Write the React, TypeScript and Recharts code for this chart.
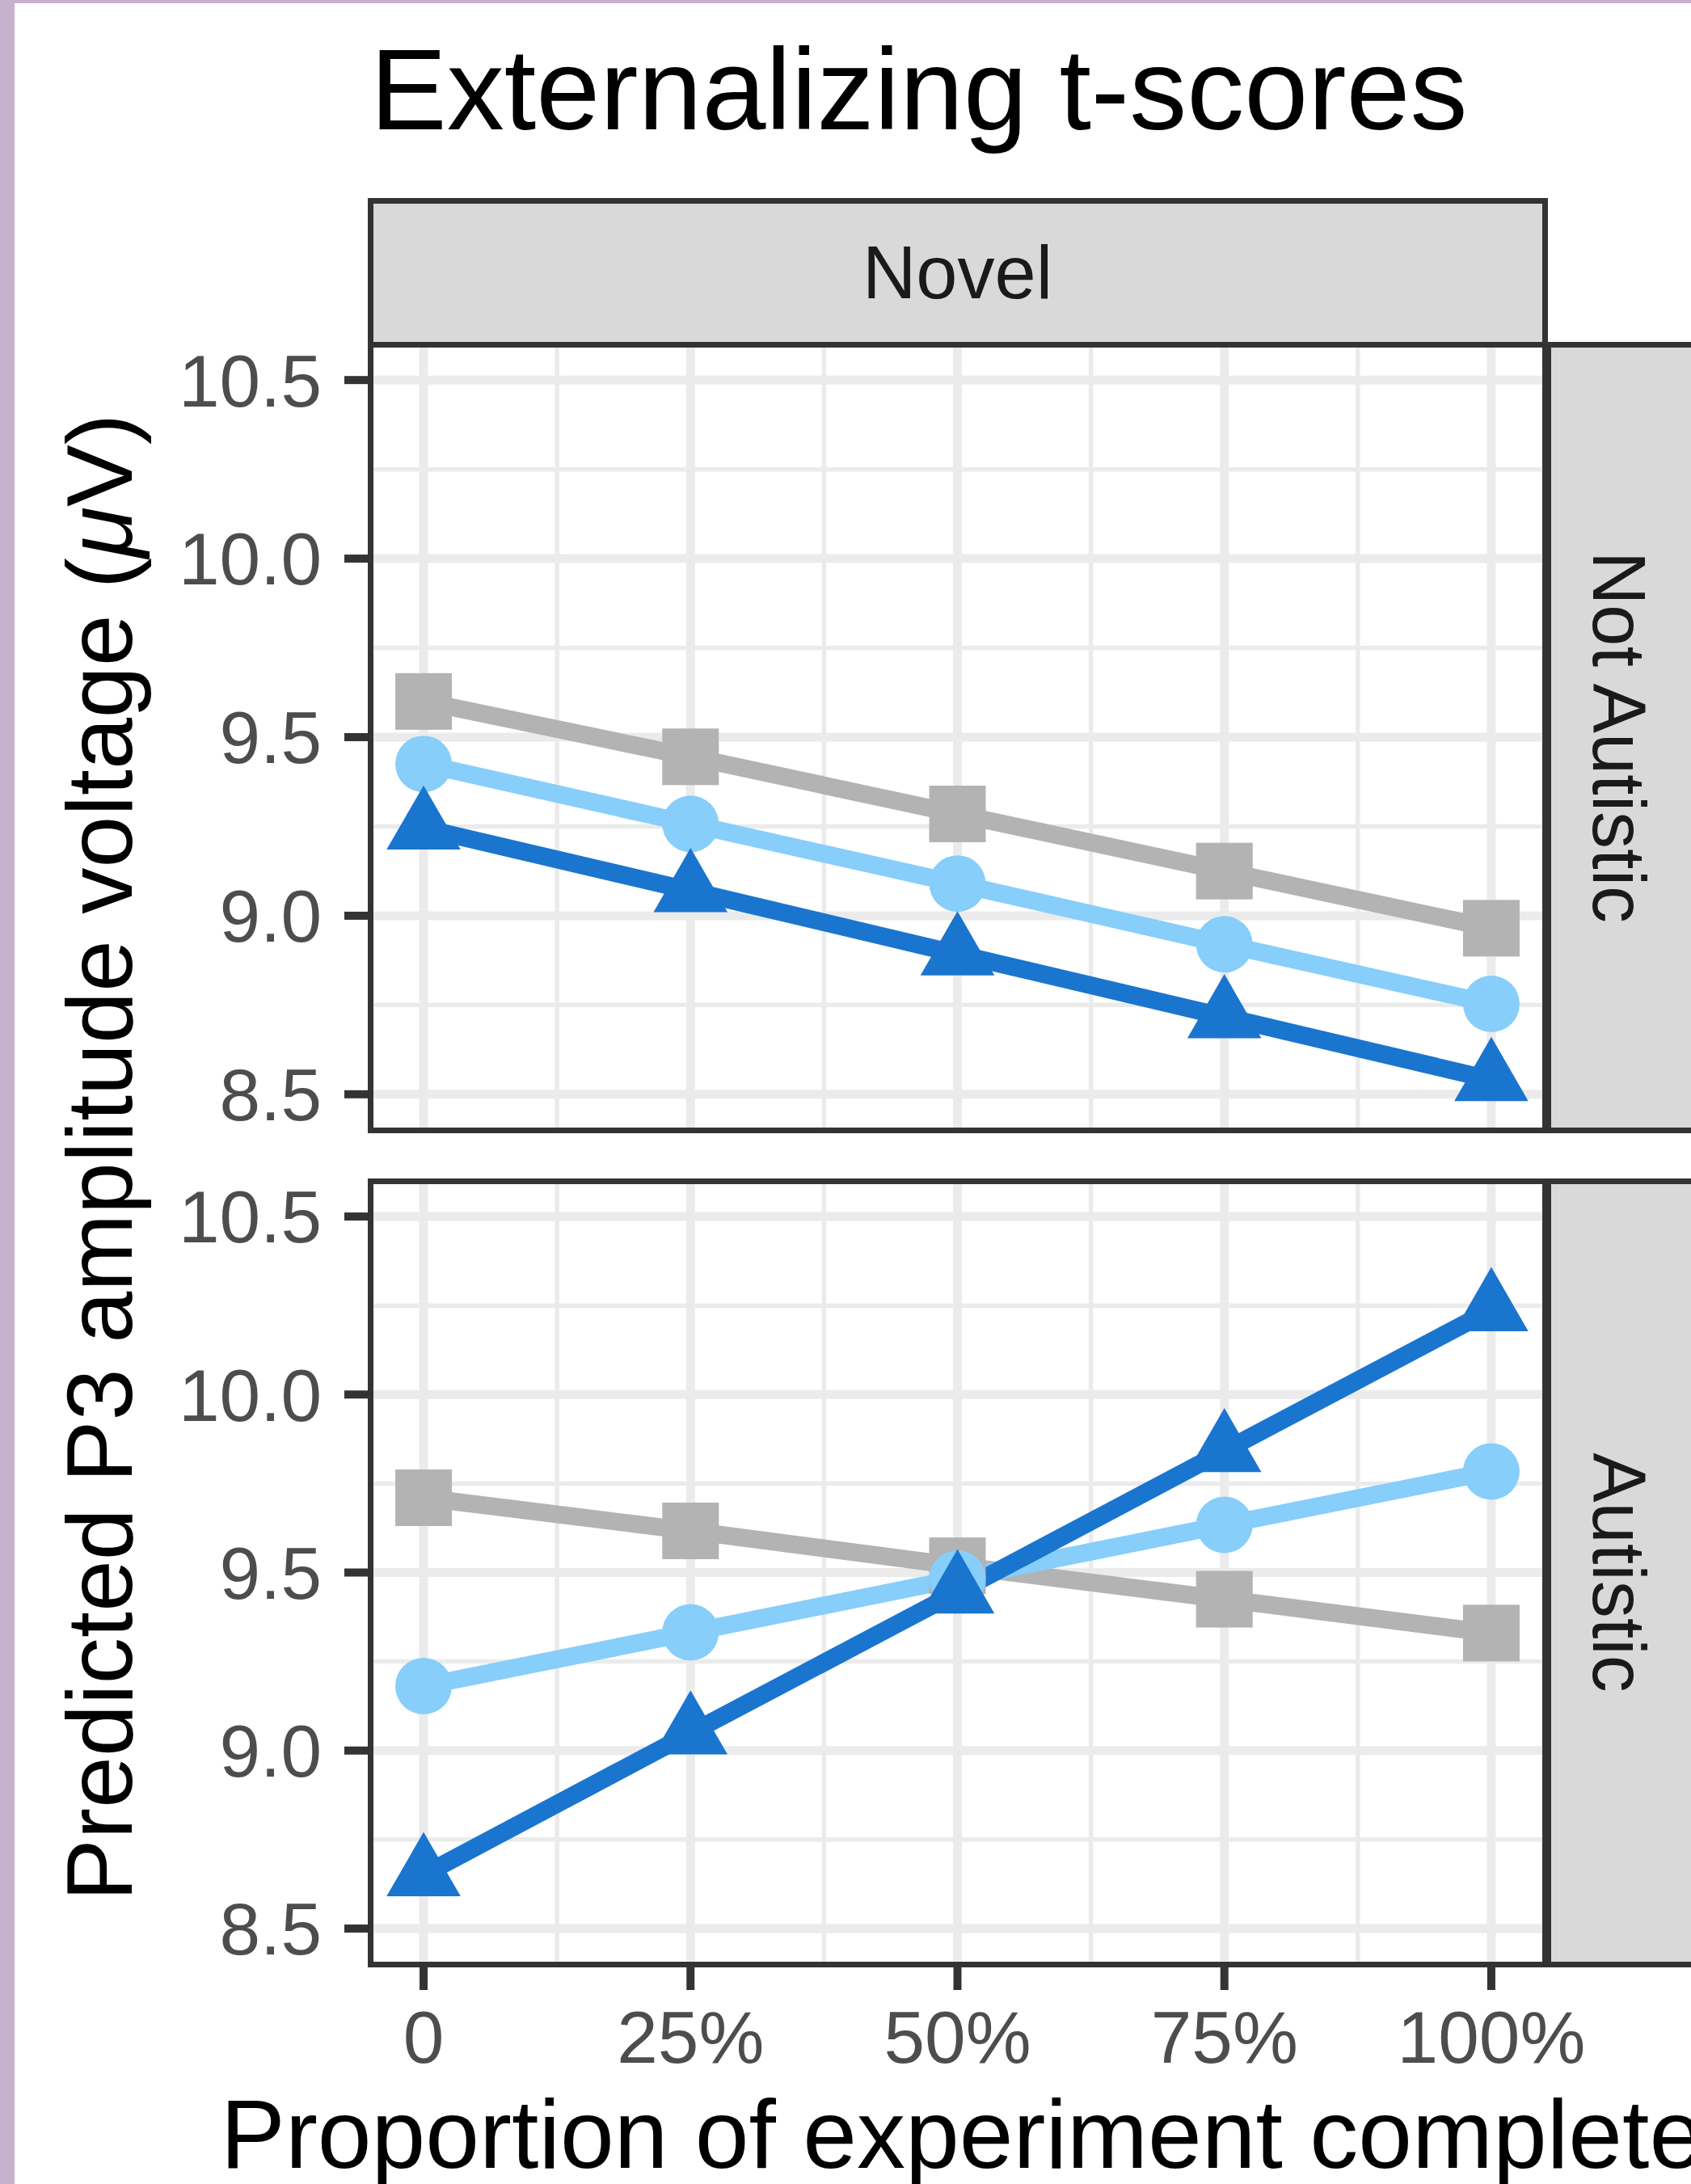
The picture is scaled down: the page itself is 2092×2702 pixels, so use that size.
import { LineChart, Line, XAxis, YAxis, CartesianGrid } from "recharts";

const progress = [0, 0.25, 0.5, 0.75, 1];
const xTickLabels = ["0", "25%", "50%", "75%", "100%"];
const xMinor = [0.125, 0.375, 0.625, 0.875];
const yTicks = [8.5, 9.0, 9.5, 10.0, 10.5];
const yMinor = [8.75, 9.25, 9.75, 10.25];

// Not Autistic panel
const notAutGrey = [9.60, 9.445, 9.285, 9.125, 8.965];
const notAutLight = [9.425, 9.257, 9.09, 8.92, 8.753];
const notAutBlue = [9.245, 9.07, 8.893, 8.717, 8.541];

// Autistic panel
const autGrey = [9.71, 9.617, 9.519, 9.425, 9.33];
const autLight = [9.181, 9.332, 9.483, 9.634, 9.784];
const autBlue = [8.651, 9.049, 9.445, 9.842, 10.238];

const GREY = "#b3b3b3";
const LIGHT = "#87cefa";
const BLUE = "#1a75cf";
const FONT = '"Liberation Sans", Arial, Helvetica, sans-serif';

const PAGE_W = 2092;
const PANEL_L = 458;
const PANEL_R = 1911;
const TOP_T = 426;
const TOP_B = 1398;
const BOT_T = 1461;
const BOT_B = 2430;
const X_AXIS_H = 140;
const LINE_W = 22;

const buildRows = (grey: number[], light: number[], blue: number[]) =>
  progress.map((x, i) => ({ x, grey: grey[i], light: light[i], blue: blue[i] }));

const SquareDot = (p: any) => (
  <rect key={`sq-${p.index}`} x={p.cx - 35} y={p.cy - 35} width={70} height={70} fill={GREY} />
);

const CircleDot = (p: any) => (
  <circle key={`ci-${p.index}`} cx={p.cx} cy={p.cy} r={35} fill={LIGHT} />
);

const TriangleDot = (p: any) => {
  const r = 34;
  const apex = 1.555 * r;
  const half = 1.347 * r;
  const base = 0.778 * r;
  return (
    <polygon
      key={`tr-${p.index}`}
      points={`${p.cx},${p.cy - apex} ${p.cx + half},${p.cy + base} ${p.cx - half},${p.cy + base}`}
      fill={BLUE}
    />
  );
};

type PanelProps = {
  rows: ReturnType<typeof buildRows>;
  top: number;
  height: number;
  showX: boolean;
};

const Panel = ({ rows, top, height, showX }: PanelProps) => {
  const chartH = height + (showX ? X_AXIS_H : 0);
  return (
    <div style={{ position: "absolute", left: 0, top }}>
      <LineChart
        width={PAGE_W}
        height={chartH}
        data={rows}
        margin={{ top: 0, right: PAGE_W - PANEL_R, bottom: 0, left: 0 }}
      >
        <CartesianGrid
          stroke="#ebebeb"
          strokeWidth={5.5}
          horizontalValues={yMinor}
          verticalValues={xMinor}
        />
        <CartesianGrid
          stroke="#ebebeb"
          strokeWidth={11}
          horizontalValues={yTicks}
          verticalValues={progress}
        />
        <XAxis
          dataKey="x"
          type="number"
          domain={[-0.05, 1.05]}
          allowDataOverflow
          ticks={progress}
          hide={!showX}
          height={X_AXIS_H}
          axisLine={false}
          tickLine={{ stroke: "#333333", strokeWidth: 10 }}
          tickSize={32}
          tickMargin={25}
          tickFormatter={(v: number) => xTickLabels[progress.indexOf(v)] ?? ""}
          tick={{ fill: "#4d4d4d", fontSize: 91, fontFamily: FONT }}
          interval={0}
        />
        <YAxis
          type="number"
          domain={[8.4, 10.6]}
          allowDataOverflow
          ticks={yTicks}
          width={PANEL_L}
          axisLine={false}
          tickLine={{ stroke: "#333333", strokeWidth: 10 }}
          tickSize={32}
          tickMargin={28}
          tickFormatter={(v: number) => v.toFixed(1)}
          tick={{ fill: "#4d4d4d", fontSize: 91, fontFamily: FONT }}
          interval={0}
        />
        <Line
          dataKey="grey"
          stroke={GREY}
          strokeWidth={LINE_W}
          dot={SquareDot}
          activeDot={false}
          isAnimationActive={false}
        />
        <Line
          dataKey="light"
          stroke={LIGHT}
          strokeWidth={LINE_W}
          dot={CircleDot}
          activeDot={false}
          isAnimationActive={false}
        />
        <Line
          dataKey="blue"
          stroke={BLUE}
          strokeWidth={LINE_W}
          dot={TriangleDot}
          activeDot={false}
          isAnimationActive={false}
        />
      </LineChart>
    </div>
  );
};

const frame = (l: number, t: number, r: number, b: number, fill: string) => (
  <div
    style={{
      position: "absolute",
      left: l - 3.5,
      top: t - 3.5,
      width: r - l + 7,
      height: b - t + 7,
      border: "7px solid #333333",
      boxSizing: "border-box",
      background: fill,
    }}
  />
);

export default function App() {
  const midX = (PANEL_L + PANEL_R) / 2;
  const stripCx = 2004;
  return (
    <div
      style={{
        position: "absolute",
        left: 0,
        top: 0,
        width: PAGE_W,
        height: 2702,
        background: "#ffffff",
        overflow: "hidden",
        fontFamily: FONT,
      }}
    >
      {/* strips */}
      {frame(PANEL_L, 248, PANEL_R, TOP_T, "#d9d9d9")}
      {frame(1915, TOP_T, 2110, TOP_B, "#d9d9d9")}
      {frame(1915, BOT_T, 2110, BOT_B, "#d9d9d9")}

      <Panel rows={buildRows(notAutGrey, notAutLight, notAutBlue)} top={TOP_T} height={TOP_B - TOP_T} showX={false} />
      <Panel rows={buildRows(autGrey, autLight, autBlue)} top={BOT_T} height={BOT_B - BOT_T} showX />

      {frame(PANEL_L, TOP_T, PANEL_R, TOP_B, "transparent")}
      {frame(PANEL_L, BOT_T, PANEL_R, BOT_B, "transparent")}

      <svg
        width={PAGE_W}
        height={2702}
        style={{ position: "absolute", left: 0, top: 0, pointerEvents: "none" }}
      >
        <rect x={0} y={0} width={18} height={2702} fill="#c8b1cc" />
        <rect x={0} y={0} width={PAGE_W} height={4} fill="#c8b1cc" />
        <text x={458} y={160} fontSize={142} fill="#000000" fontFamily={FONT}>
          Externalizing t-scores
        </text>
        <text x={midX} y={369} fontSize={92} fill="#1a1a1a" fontFamily={FONT} textAnchor="middle">
          Novel
        </text>
        <text
          transform={`translate(${stripCx}, ${(TOP_T + TOP_B) / 2}) rotate(90)`}
          y={33}
          fontSize={92}
          fill="#1a1a1a"
          fontFamily={FONT}
          textAnchor="middle"
        >
          Not Autistic
        </text>
        <text
          transform={`translate(${stripCx}, ${(BOT_T + BOT_B) / 2}) rotate(90)`}
          y={33}
          fontSize={92}
          fill="#1a1a1a"
          fontFamily={FONT}
          textAnchor="middle"
        >
          Autistic
        </text>
        <text x={1190} y={2682} fontSize={120} fill="#000000" fontFamily={FONT} textAnchor="middle">
          Proportion of experiment complete
        </text>
        <text
          transform={`translate(120, ${(TOP_T + BOT_B) / 2 + 4}) rotate(-90)`}
          y={43}
          fontSize={115}
          fill="#000000"
          fontFamily={FONT}
          textAnchor="middle"
        >
          Predicted P3 amplitude voltage (<tspan fontStyle="italic">μ</tspan>V)
        </text>
      </svg>
    </div>
  );
}
